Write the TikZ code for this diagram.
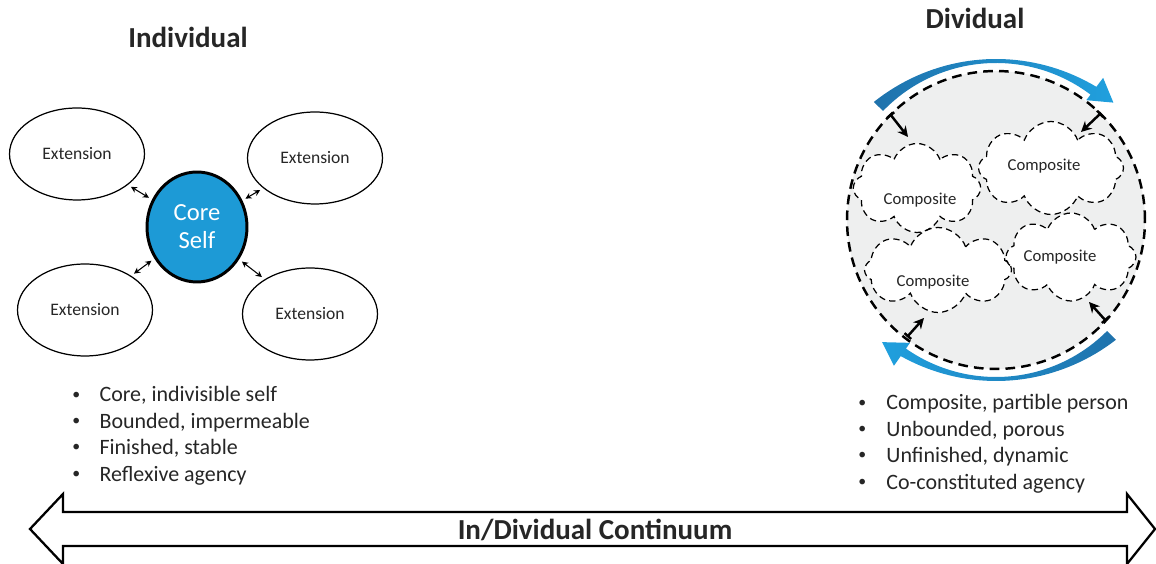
\documentclass[tikz,border=0pt]{standalone}
\usepackage{fontspec}
\setmainfont{Carlito}
\usetikzlibrary{arrows.meta,shapes.geometric,shapes.symbols}

\definecolor{coreblue}{RGB}{29,154,214}
\definecolor{arcdark}{RGB}{31,114,172}
\definecolor{arclight}{RGB}{32,160,222}
\definecolor{discgray}{RGB}{238,239,239}
\definecolor{txt}{RGB}{38,38,38}

\newcommand{\dotmark}{\raisebox{1.6pt}{\fontsize{9}{9}\selectfont\textbullet}}

\begin{document}
\begin{tikzpicture}[x=0.02cm,y=0.02cm,
  title/.style={font=\fontsize{16.5}{20}\selectfont\bfseries,text=txt},
  ext/.style={ellipse,draw,line width=0.7pt,minimum width=2.7cm,minimum height=1.84cm,
    font=\fontsize{10}{12}\selectfont,text=txt},
  puff/.style={cloud,cloud puffs=8,cloud puff arc=140,cloud ignores aspect,inner sep=0pt},
  puffline/.style={puff,draw,dash pattern=on 3.6pt off 2.4pt,line width=0.7pt},
  ctext/.style={font=\fontsize{9.5}{11}\selectfont,text=txt},
  list/.style={font=\fontsize{12.5}{15}\selectfont,text=txt,inner sep=0pt},
  link/.style={{Stealth[length=3.5pt,width=3.5pt]}-{Stealth[length=3.5pt,width=3.5pt]},
    line width=0.6pt,shorten <=2pt,shorten >=2pt},
  pull/.style={{Bar[width=5pt]}-{Stealth[length=6pt,width=6pt]},line width=1.4pt}]
\useasboundingbox (0,0) rectangle (1156,564);

% individual side
\node[title] (indiv) at (188,527) {Individual};
\node[ellipse,draw,line width=1.7pt,fill=coreblue,minimum width=2cm,minimum height=2.2cm,
  align=center,text=white,font=\fontsize{14}{16}\selectfont] (core) at (197,337) {Core\\Self};
\node[ext] (e1) at (77,410) {Extension};
\node[ext] (e2) at (315,406) {Extension};
\node[ext] (e3) at (85,254) {Extension};
\node[ext] (e4) at (310,250) {Extension};

\path[link] (e1) edge (core)
            (e2) edge (core)
            (e3) edge (core)
            (e4) edge (core);

\node[list,anchor=base west] (lleft) at (72,162) {\begin{tabular}[t]{@{}l@{\hspace{11pt}}l@{}}
  \dotmark & Core, indivisible self\\
  \dotmark & Bounded, impermeable\\
  \dotmark & Finished, stable\\
  \dotmark & Reflexive agency
\end{tabular}};

% dividual side
\node[title] (divid) at (975,546) {Dividual};
\node[circle,draw,line width=1.4pt,dash pattern=on 5.5pt off 3.5pt,fill=discgray,
  minimum size=5.96cm] (disc) at (996,344) {};

\begin{scope}[shift={(disc.center)}]
  \shade[left color=arcdark,right color=arclight]
    (136:157) -- plot[domain=136:53,samples=40] (\x:{161+0.0042*(\x-90)^2})
    -- (53:178) -- (45:166) -- (53:150) -- (53:157)
    arc[start angle=53,end angle=136,radius=157] -- cycle;
  \shade[left color=arclight,right color=arcdark]
    (-45:157) -- plot[domain=-45:-125,samples=40] (\x:{161+0.0042*(\x+90)^2})
    -- (-125:178) -- (-133:167) -- (-125:150) -- (-125:157)
    arc[start angle=-125,end angle=-45,radius=157] -- cycle;
\end{scope}

% clouds: fill first, then dashed outlines
\node[puff,fill=white,minimum width=2.55cm,minimum height=1.78cm] (c1) at (917,376) {};
\node[puff,fill=white,minimum width=2.9cm,minimum height=1.86cm] (c2) at (1051,396) {};
\node[puff,fill=white,minimum width=2.94cm,minimum height=1.7cm] (c3) at (938,294) {};
\node[puff,fill=white,minimum width=2.6cm,minimum height=1.76cm] (c4) at (1071,307) {};
\node[puffline,minimum width=2.55cm,minimum height=1.78cm] (o1) at (c1) {};
\node[puffline,minimum width=2.9cm,minimum height=1.86cm] (o2) at (c2) {};
\node[puffline,minimum width=2.94cm,minimum height=1.7cm] (o3) at (c3) {};
\node[puffline,minimum width=2.6cm,minimum height=1.76cm] (o4) at (c4) {};
\node[ctext] (t1) at (920,364) {Composite};
\node[ctext] (t2) at (1044,398) {Composite};
\node[ctext] (t3) at (933,282) {Composite};
\node[ctext] (t4) at (1060,307) {Composite};

\coordinate (p1) at (890,450);
\coordinate (q1) at (908,427);
\coordinate (p2) at (1101,451);
\coordinate (q2) at (1081,432);
\coordinate (p3) at (907,227);
\coordinate (q3) at (924,246);
\coordinate (p4) at (1106,243);
\coordinate (q4) at (1089,262);
\draw[pull] (p1) -- (q1);
\draw[pull] (p2) -- (q2);
\draw[pull] (p3) -- (q3);
\draw[pull] (p4) -- (q4);

\node[list,anchor=base west] (lright) at (858,154) {\begin{tabular}[t]{@{}l@{\hspace{11.5pt}}l@{}}
  \dotmark & Composite, partible person\\
  \dotmark & Unbounded, porous\\
  \dotmark & Unfinished, dynamic\\
  \dotmark & Co-constituted agency
\end{tabular}};

% continuum
\draw[line width=1.3pt] (30,35) -- (63,70) -- (63,52) -- (1127,52) -- (1127,70) -- (1155,35)
  -- (1127,0) -- (1127,18) -- (63,18) -- (63,0) -- cycle;
\node[title] (cont) at (595,34) {In/Dividual Continuum};
\end{tikzpicture}
\end{document}
